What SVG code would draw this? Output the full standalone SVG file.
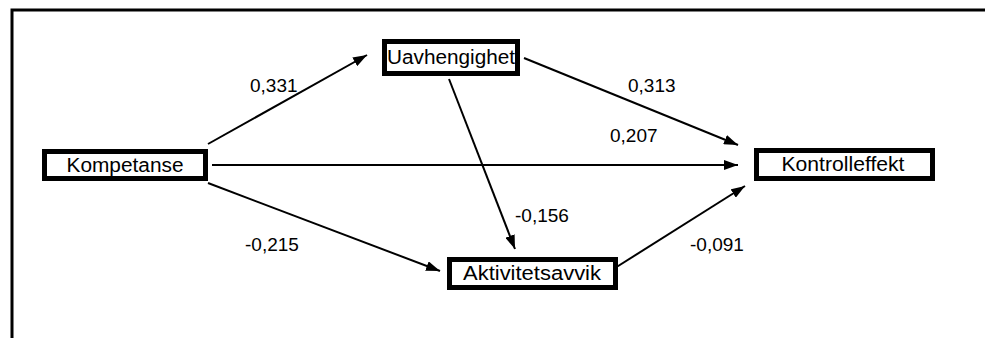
<svg xmlns="http://www.w3.org/2000/svg" width="985" height="338" viewBox="0 0 985 338">
  <defs>
    <marker id="arrow" viewBox="0 0 14 10" refX="14" refY="5" markerWidth="14" markerHeight="10" markerUnits="userSpaceOnUse" orient="auto">
      <path d="M0,0 L14,5 L0,10 Z" fill="#000"/>
    </marker>
  </defs>
  <style>
    .box { fill: #fff; stroke: #000; stroke-width: 5; }
    .lbl { font-family: "Liberation Sans", Arial, sans-serif; font-size: 20px; fill: #000; text-anchor: middle; }
    .coef { font-family: "Liberation Sans", Arial, sans-serif; font-size: 19px; fill: #000; }
    .edge { stroke: #000; stroke-width: 2; fill: none; marker-end: url(#arrow); }
  </style>
  <rect width="985" height="338" fill="#fff"/>
  <!-- frame -->
  <path d="M12,338 V10 H985" fill="none" stroke="#000" stroke-width="3"/>

  <g id="connectors">
    <line class="edge" x1="208" y1="144" x2="367" y2="55"/>
    <line class="edge" x1="212" y1="165" x2="738" y2="165"/>
    <line class="edge" x1="208" y1="183" x2="440" y2="271"/>
    <line class="edge" x1="524" y1="58" x2="738" y2="145"/>
    <line class="edge" x1="449" y1="79" x2="515" y2="249"/>
    <line class="edge" x1="615" y1="268" x2="745" y2="186"/>
  </g>

  <g id="coefficients">
    <text class="coef" x="250" y="92">0,331</text>
    <text class="coef" x="628" y="92">0,313</text>
    <text class="coef" x="610" y="142">0,207</text>
    <text class="coef" x="515" y="222">-0,156</text>
    <text class="coef" x="245" y="251">-0,215</text>
    <text class="coef" x="690" y="251">-0,091</text>
  </g>

  <g id="kompetanse">
    <rect class="box" x="44.5" y="151.5" width="161" height="27"/>
    <text class="lbl" x="125" y="172" textLength="117" lengthAdjust="spacingAndGlyphs">Kompetanse</text>
  </g>
  <g id="uavhengighet">
    <rect class="box" x="384.5" y="41.5" width="133" height="32"/>
    <text class="lbl" x="451" y="64" textLength="128" lengthAdjust="spacingAndGlyphs">Uavhengighet</text>
  </g>
  <g id="aktivitetsavvik">
    <rect class="box" x="449.5" y="259.5" width="166" height="28"/>
    <text class="lbl" x="532" y="280" textLength="138" lengthAdjust="spacingAndGlyphs">Aktivitetsavvik</text>
  </g>
  <g id="kontrolleffekt">
    <rect class="box" x="756.5" y="150.5" width="176" height="28"/>
    <text class="lbl" x="843" y="171" textLength="123" lengthAdjust="spacingAndGlyphs">Kontrolleffekt</text>
  </g>
</svg>
